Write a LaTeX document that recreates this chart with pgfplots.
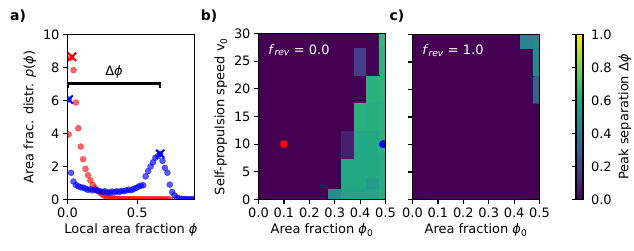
\documentclass[border=0pt]{standalone}
\usepackage{fontspec}
\setmainfont{DejaVu Sans}
\usepackage{pgfplots}
\pgfplotsset{compat=1.18}
\definecolor{vdark}{HTML}{440154}

\pgfplotstableread{
x r
0.0086 3.94
0.0259 8.60
0.0431 7.84
0.0603 5.88
0.0776 4.32
0.0948 3.21
0.112 2.44
0.129 1.86
0.147 1.47
0.164 1.15
0.181 0.88
0.198 0.70
0.216 0.55
0.233 0.42
0.250 0.30
0.267 0.22
0.284 0.16
0.302 0.11
0.319 0.08
0.336 0.06
0.353 0.05
0.371 0.04
0.388 0.04
0.405 0.03
0.422 0.03
0.440 0.03
0.457 0.03
0.474 0.03
0.491 0.02
0.509 0.02
0.526 0.02
0.543 0.02
0.560 0.02
0.578 0.02
0.595 0.02
0.612 0.02
0.629 0.02
0.647 0.02
0.664 0.02
0.681 0.01
0.698 0.01
0.716 0.01
0.733 0.01
}\reddata

\pgfplotstableread{
x b
0.0086 6.06
0.0259 1.62
0.0431 1.09
0.0603 0.88
0.0776 0.80
0.0948 0.74
0.112 0.72
0.129 0.66
0.147 0.58
0.164 0.62
0.181 0.55
0.198 0.60
0.216 0.52
0.233 0.50
0.250 0.46
0.267 0.50
0.284 0.44
0.302 0.42
0.319 0.48
0.336 0.44
0.353 0.50
0.371 0.46
0.388 0.52
0.405 0.50
0.422 0.55
0.440 0.60
0.457 0.56
0.474 0.64
0.491 0.70
0.509 0.78
0.526 0.84
0.543 0.86
0.560 1.40
0.578 1.72
0.595 2.00
0.612 2.25
0.629 2.53
0.647 2.62
0.664 2.77
0.681 2.34
0.698 1.92
0.716 1.62
0.733 0.90
0.750 0.45
0.767 0.25
0.784 0.12
0.802 0.06
0.819 0.04
0.836 0.03
0.853 0.03
0.871 0.02
0.888 0.02
0.905 0.02
}\bluedata

\pgfplotstableread{
x y c
0.025 1 0
0.05 1 0
0.075 1 0
0.1 1 0
0.15 1 0
0.2 1 0
0.25 1 0
0.3 1 0.50
0.35 1 0.58
0.4 1 0.58
0.45 1 0.58
0.5 1 0.62
0.025 3 0
0.05 3 0
0.075 3 0
0.1 3 0
0.15 3 0
0.2 3 0
0.25 3 0
0.3 3 0
0.35 3 0.60
0.4 3 0.60
0.45 3 0.55
0.5 3 0.62
0.025 5 0
0.05 5 0
0.075 5 0
0.1 5 0
0.15 5 0
0.2 5 0
0.25 5 0
0.3 5 0
0.35 5 0.60
0.4 5 0.60
0.45 5 0.60
0.5 5 0.62
0.025 10 0
0.05 10 0
0.075 10 0
0.1 10 0
0.15 10 0
0.2 10 0
0.25 10 0
0.3 10 0
0.35 10 0.08
0.4 10 0.60
0.45 10 0.60
0.5 10 0.63
0.025 15 0
0.05 15 0
0.075 15 0
0.1 15 0
0.15 15 0
0.2 15 0
0.25 15 0
0.3 15 0
0.35 15 0
0.4 15 0.63
0.45 15 0.62
0.5 15 0.64
0.025 20 0
0.05 20 0
0.075 20 0
0.1 20 0
0.15 20 0
0.2 20 0
0.25 20 0
0.3 20 0
0.35 20 0
0.4 20 0
0.45 20 0.64
0.5 20 0.65
0.025 25 0
0.05 25 0
0.075 25 0
0.1 25 0
0.15 25 0
0.2 25 0
0.25 25 0
0.3 25 0
0.35 25 0
0.4 25 0.18
0.45 25 0
0.5 25 0.65
0.025 30 0
0.05 30 0
0.075 30 0
0.1 30 0
0.15 30 0
0.2 30 0
0.25 30 0
0.3 30 0
0.35 30 0
0.4 30 0
0.45 30 0
0.5 30 0.66
}\mapb

\pgfplotstableread{
x y c
0.025 1 0
0.05 1 0
0.075 1 0
0.1 1 0
0.15 1 0
0.2 1 0
0.25 1 0
0.3 1 0
0.35 1 0
0.4 1 0
0.45 1 0
0.5 1 0
0.025 3 0
0.05 3 0
0.075 3 0
0.1 3 0
0.15 3 0
0.2 3 0
0.25 3 0
0.3 3 0
0.35 3 0
0.4 3 0
0.45 3 0
0.5 3 0
0.025 5 0
0.05 5 0
0.075 5 0
0.1 5 0
0.15 5 0
0.2 5 0
0.25 5 0
0.3 5 0
0.35 5 0
0.4 5 0
0.45 5 0
0.5 5 0
0.025 10 0
0.05 10 0
0.075 10 0
0.1 10 0
0.15 10 0
0.2 10 0
0.25 10 0
0.3 10 0
0.35 10 0
0.4 10 0
0.45 10 0
0.5 10 0
0.025 15 0
0.05 15 0
0.075 15 0
0.1 15 0
0.15 15 0
0.2 15 0
0.25 15 0
0.3 15 0
0.35 15 0
0.4 15 0
0.45 15 0
0.5 15 0
0.025 20 0
0.05 20 0
0.075 20 0
0.1 20 0
0.15 20 0
0.2 20 0
0.25 20 0
0.3 20 0
0.35 20 0
0.4 20 0
0.45 20 0
0.5 20 0.32
0.025 25 0
0.05 25 0
0.075 25 0
0.1 25 0
0.15 25 0
0.2 25 0
0.25 25 0
0.3 25 0
0.35 25 0
0.4 25 0
0.45 25 0
0.5 25 0.48
0.025 30 0
0.05 30 0
0.075 30 0
0.1 30 0
0.15 30 0
0.2 30 0
0.25 30 0
0.3 30 0
0.35 30 0
0.4 30 0
0.45 30 0.45
0.5 30 0.48
}\mapc

\begin{document}
\begin{tikzpicture}
\useasboundingbox (0,0) rectangle (634bp,251bp);
\pgfplotsset{
  every axis/.append style={
    scale only axis,
    font=\fontsize{13}{15}\selectfont,
    tick align=outside,
    major tick length=4.5bp,
    tick style={black, line width=1.2bp},
    axis line style={black, line width=1.3bp},
    /pgf/number format/assume math mode=true,
    xtick pos=left, ytick pos=left,
    clip marker paths=true,
  },
}
% ---------- panel a ----------
\begin{axis}[at={(67.5bp,51.5bp)}, anchor=south west, width=127bp, height=165bp,
  xmin=0, xmax=0.91, ymin=0, ymax=10,
  xtick={0,0.5}, ytick={0,2,4,6,8,10},
  xticklabel style={/pgf/number format/.cd, fixed, fixed zerofill, precision=1},
  xlabel={Local area fraction \textit{ϕ}},
  ylabel={Area frac. distr. \textit{p}(\textit{ϕ})},
  axis on top,
  ]
\addplot[only marks, mark=*, mark size=3bp, draw=red, fill=red, draw opacity=0.6, fill opacity=0.6] table[x=x,y=r] {\reddata};
\addplot[only marks, mark=*, mark size=3bp, draw=blue, fill=blue, draw opacity=0.65, fill opacity=0.65] table[x=x,y=b] {\bluedata};
\addplot[only marks, mark=x, mark size=5.8bp, red, mark options={line width=2bp}] coordinates {(0.033,8.65)};
\addplot[only marks, mark=x, mark size=5.8bp, blue, mark options={line width=2bp}] coordinates {(0.0086,6.06) (0.664,2.77)};
\addplot[black, line width=2.3bp] coordinates {(0,6.78) (0,7.03) (0.665,7.03) (0.665,6.78)};
\node[anchor=south] at (axis cs:0.333,7.12) {Δ\textit{ϕ}};
\draw[black, line width=1.2bp] (rel axis cs:0,0) rectangle (rel axis cs:1,1);
\end{axis}
% ---------- panel b ----------
\begin{axis}[at={(258.5bp,51.5bp)}, anchor=south west, width=127bp, height=166bp,
  xmin=0, xmax=0.5, ymin=0, ymax=30,
  xtick={0,0.1,0.2,0.3,0.4,0.5}, ytick={0,5,10,15,20,25,30},
  xticklabel style={/pgf/number format/.cd, fixed, fixed zerofill, precision=1},
  colormap/viridis, point meta min=0, point meta max=1,
  axis background/.style={fill=vdark},
  xlabel={Area fraction \textit{ϕ}\textsubscript{0}},
  ylabel={Self-propulsion speed v\textsubscript{0}},
  axis on top,
  ]
\addplot[matrix plot*, mesh/cols=12, point meta=explicit] table[x=x,y=y,meta=c] {\mapb};
\addplot[only marks, mark=*, mark size=3.7bp, red] coordinates {(0.1,10)};
\addplot[only marks, mark=*, mark size=3.7bp, blue] coordinates {(0.49,10)};
\node[white, anchor=west] at (rel axis cs:0.05,0.9) {\textit{f}\textsubscript{\textit{rev}} = 0.0};
\draw[black, line width=1.2bp] (rel axis cs:0,0) rectangle (rel axis cs:1,1);
\end{axis}
% ---------- panel c ----------
\begin{axis}[at={(412.5bp,51.5bp)}, anchor=south west, width=127bp, height=165bp,
  xmin=0, xmax=0.5, ymin=0, ymax=30,
  xtick={0,0.1,0.2,0.3,0.4,0.5}, ytick={0,5,10,15,20,25,30}, yticklabels={},
  xticklabel style={/pgf/number format/.cd, fixed, fixed zerofill, precision=1},
  colormap/viridis, point meta min=0, point meta max=1,
  axis background/.style={fill=vdark},
  xlabel={Area fraction \textit{ϕ}\textsubscript{0}},
  axis on top,
  colorbar,
  colorbar style={at={(parent axis.north east)}, anchor=north west, xshift=28bp,
    width=7bp, ytick={0,0.2,0.4,0.6,0.8,1},
    yticklabel style={/pgf/number format/.cd, fixed, fixed zerofill, precision=1},
    ylabel={Peak separation Δ\textit{ϕ}}},
  ]
\addplot[matrix plot*, mesh/cols=12, point meta=explicit] table[x=x,y=y,meta=c] {\mapc};
\node[white, anchor=west] at (rel axis cs:0.05,0.9) {\textit{f}\textsubscript{\textit{rev}} = 1.0};
\draw[black, line width=1.2bp] (rel axis cs:0,0) rectangle (rel axis cs:1,1);
\end{axis}
\node[font=\bfseries\fontsize{14}{16}\selectfont] at (18bp,235bp) {a)};
\node[font=\bfseries\fontsize{14}{16}\selectfont] at (209bp,235bp) {b)};
\node[font=\bfseries\fontsize{14}{16}\selectfont] at (397bp,235bp) {c)};
\end{tikzpicture}
\end{document}
